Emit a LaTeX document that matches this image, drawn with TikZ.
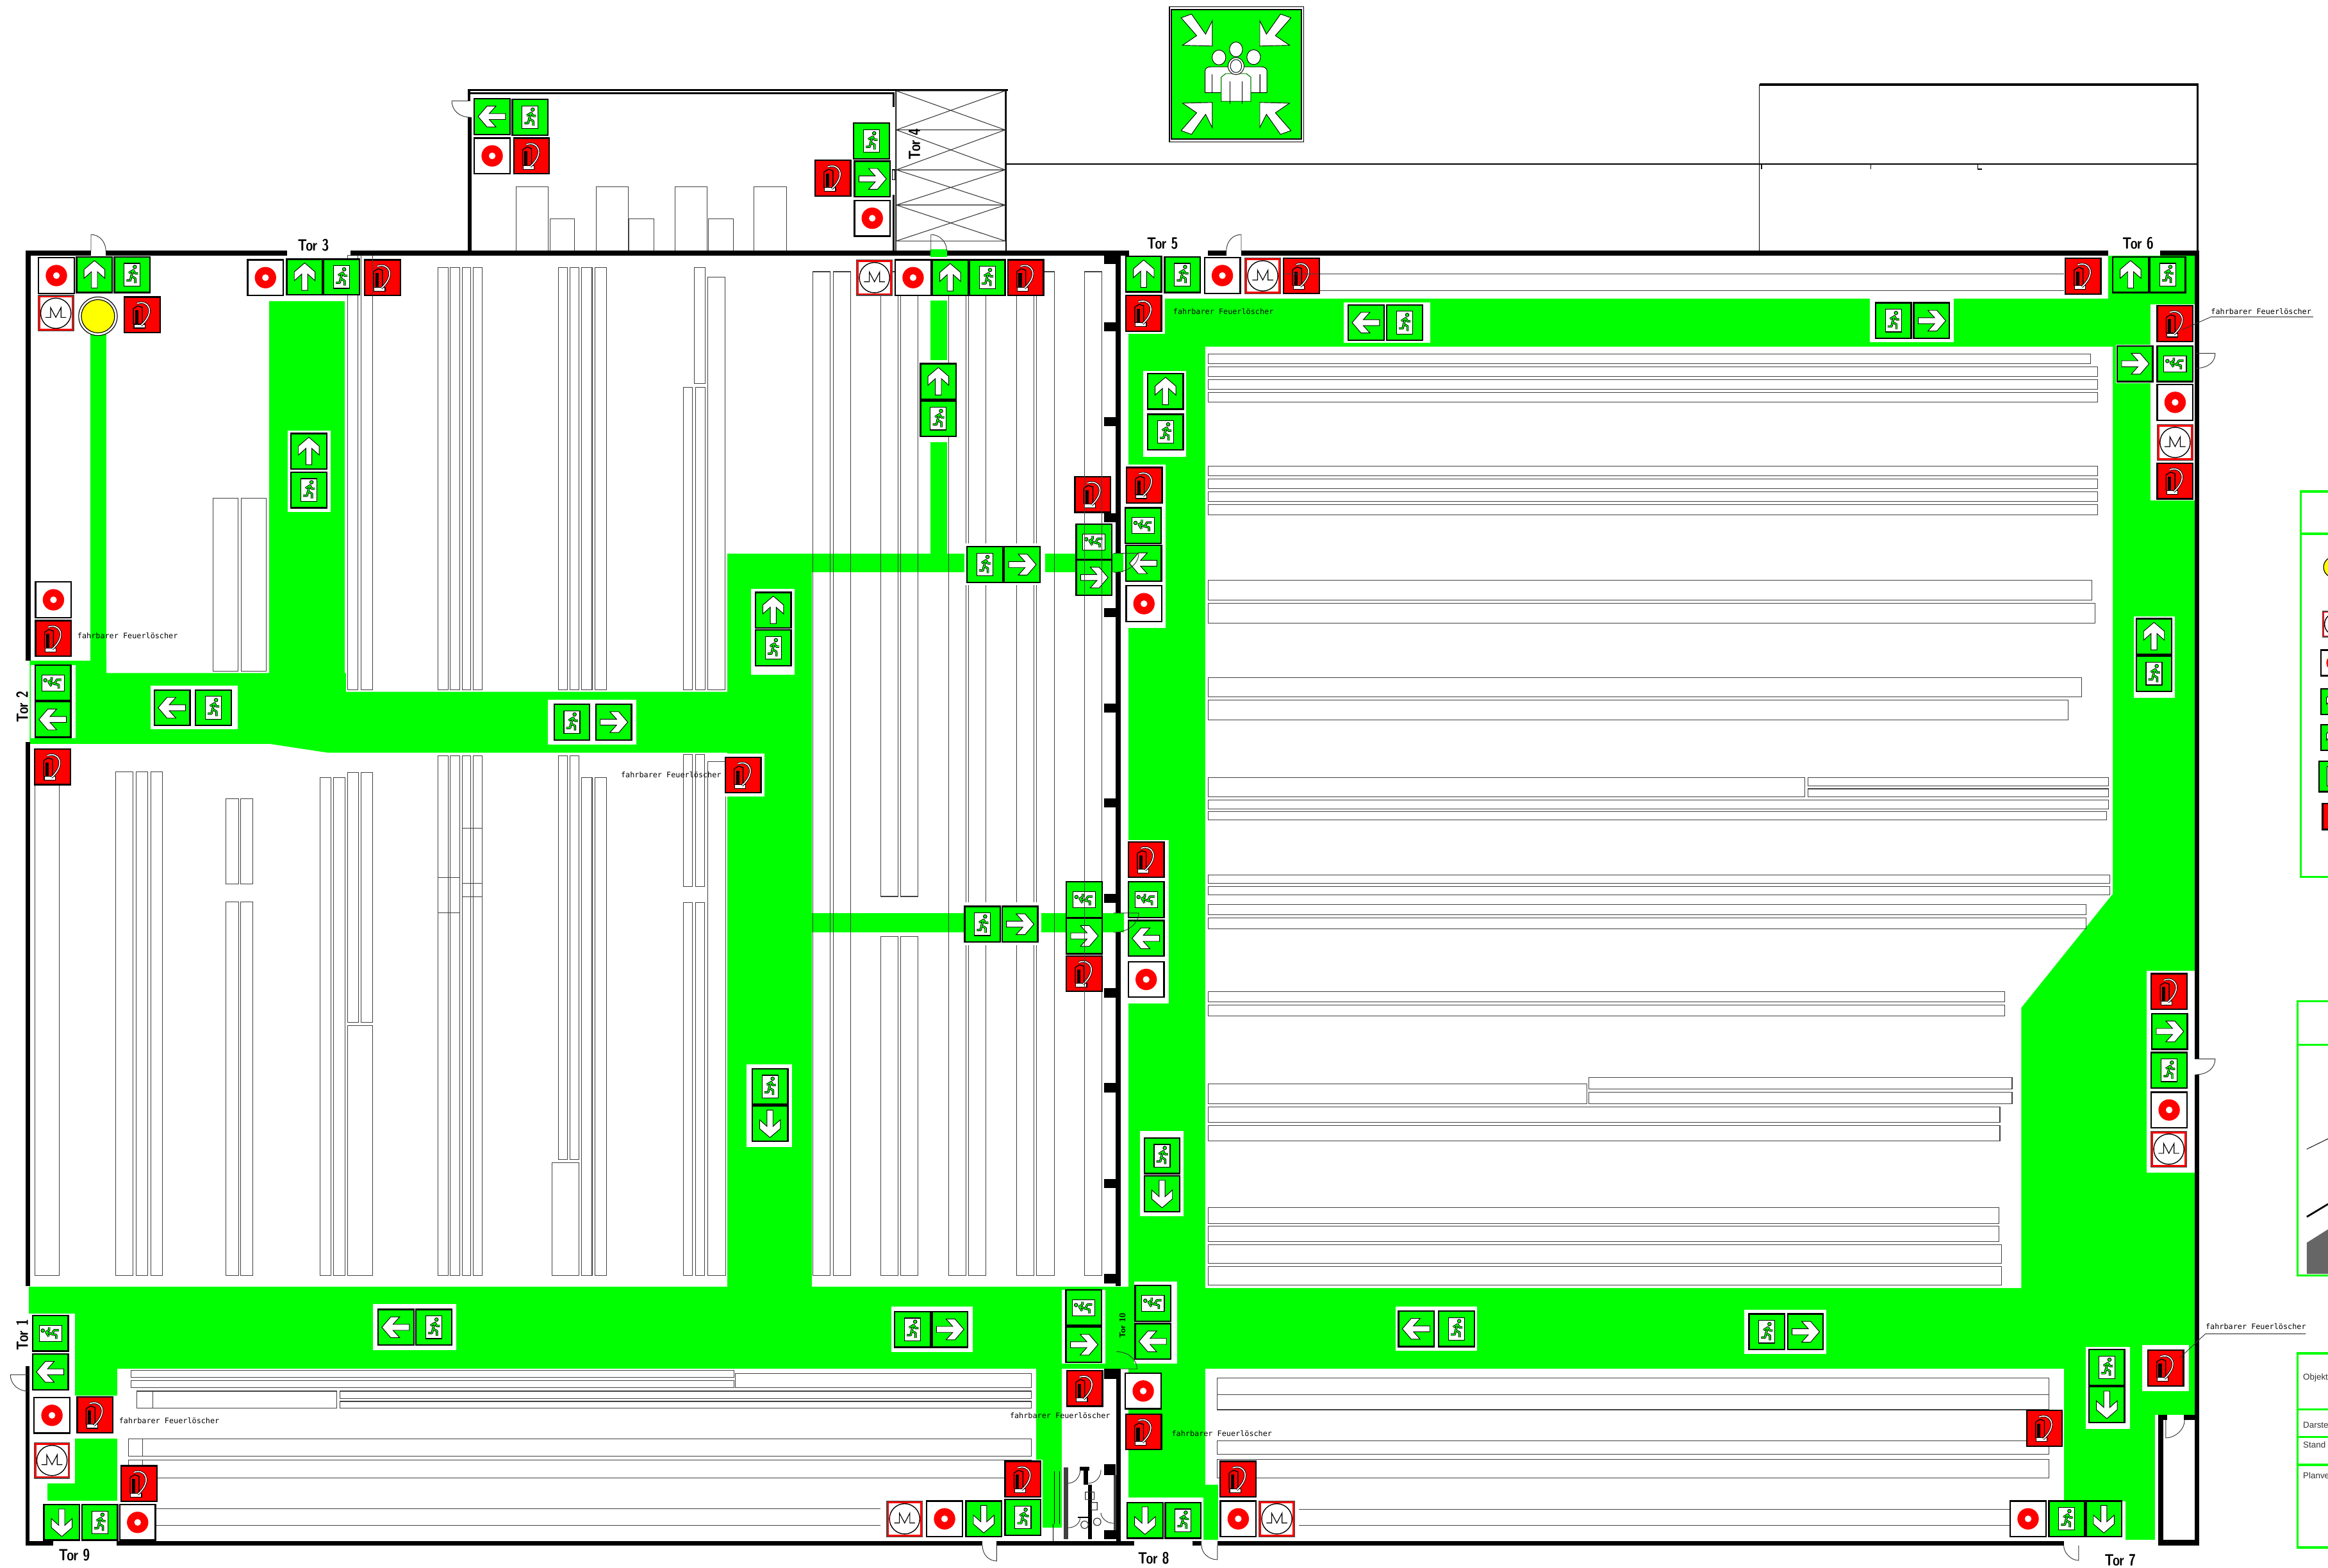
\documentclass[tikz,border=0pt]{standalone}
\usepackage{amssymb}
\usepackage{amsmath}
\usepackage{color}
\usepackage{fontspec}
\newfontfamily\cadfont{DejaVu Sans Mono}
\newfontfamily\titlefont{Liberation Sans}
\definecolor{exitgreen}{RGB}{0,255,0}
\definecolor{firered}{RGB}{255,0,0}
\definecolor{lampyellow}{RGB}{255,255,0}
\newcommand{\runnerpath}{(-3.8,3.9)--(-1.2,3.9)--(-.6,1)--(2.1,2.5)--(2.1,5.7) (-.6,1)--(.8,-3)--(-2.2,-1.1) (.8,-3)--(2,-.9)--(4,-.9)}
\newcommand{\hosepath}{(-3.5,-7.6) .. controls (4,-10.5) and (9.5,-2) .. (-.8,7.2)}
\tikzset{
  every node/.append style={inner sep=0pt},
  rack/.style={draw=black!75,line width=.45pt},
  wall/.style={fill=black},
  walk/.style={fill=exitgreen},
  clearzone/.style={fill=white},
  door/.style={draw=black!80,line width=.4pt},
  signframe/.style={draw=black,line width=1pt},
  legendbox/.style={draw=exitgreen,line width=1.4pt},
  torlabel/.style={font=\sffamily\bfseries\fontsize{11}{11}\selectfont,xscale=.78},
  smalltor/.style={font=\sffamily\bfseries\fontsize{5.6}{6}\selectfont},
  firelabel/.style={font=\cadfont\fontsize{5.1}{6}\selectfont},
  legendtext/.style={font=\titlefont\fontsize{5.8}{7}\selectfont,anchor=west,text=black!80},
  runsign/.pic={
    \draw[signframe,fill=exitgreen] (-12,-12) rectangle (12,12);
    \draw[black,line width=.5pt,fill=white] (-5.4,-7.6) rectangle (5.4,7.6);
    \draw[black,line width=1.5pt,line join=round] \runnerpath;
    \draw[exitgreen,line width=.7pt,line join=round] \runnerpath;
    \draw[black,line width=.4pt,fill=exitgreen] (1.8,-5.2) circle (1.2);
  },
  arrowsign/.pic={
    \draw[signframe,fill=exitgreen] (-12,-12) rectangle (12,12);
    \draw[black,line width=.4pt,fill=white] (0,-9.5)--(7,-3.5)--(7,2.5)--(2,-2)--(2,9)--(-2,9)--(-2,-2)--(-7,2.5)--(-7,-3.5)--cycle;
  },
  firesign/.pic={
    \draw[signframe,fill=firered] (-12,-12) rectangle (12,12);
    \draw[black,line width=.5pt,fill=white] (-5.6,6.4) rectangle (1.8,9);
    \draw[black,line width=.6pt] (-6,-4.2) -- (-3,-6) -- (0,-5) -- (0,6.4) (-6,-4.2) -- (-6,6.4);
    \fill[black] (-4.8,-3) rectangle (-2.6,6.4);
    \draw[black,line width=1.5pt] \hosepath;
    \draw[white,line width=.7pt] \hosepath;
  },
  bellsign/.pic={
    \draw[signframe,fill=white] (-12,-12) rectangle (12,12);
    \fill[firered,even odd rule] (0,0) circle (7.2) (0,0) circle (2.3);
  },
  hornsign/.pic={
    \draw[draw=black!70,line width=.5pt,fill=firered] (-12,-12) rectangle (12,12);
    \fill[white] (-10.6,-10.6) rectangle (10.6,10.6);
    \draw[black,line width=.6pt] (0,0) circle (10.2);
    \draw[black,line width=.5pt] (-7,2.8)--(-3.5,2.8)--(-3.5,-3.8)--(0,2.8)--(3.5,-3.8)--(3.5,2.8)--(7,2.8);
  },
  rallyarrow/.pic={
    \draw[black,line width=.4pt,fill=white] (-16,-19)--(-16,-36)--(-20.5,-27)--(-30,-40.5)--(-37,-38)--(-26.5,-26)--(-36,-19.5)--cycle;
  },
}
\begin{document}
\begin{tikzpicture}[x=1pt,y=-1pt]
\useasboundingbox (0,0) rectangle (1568,1056.1);
\clip (0,0) rectangle (1568,1056.1);
% escape routes, west hall
\fill[walk] (60.7,225) rectangle (71.7,460);
\fill[walk] (181.3,203) rectangle (232.4,470);
\fill[walk] (20,445) -- (71.7,445) -- (71.7,453.3) -- (233,453.3) -- (233,466) -- (490,466) -- (490,507) -- (221,507) -- (181.4,501) -- (20,501) -- cycle;
\fill[walk] (490,373) rectangle (547,867);
\fill[walk] (547,373) rectangle (757,385.5);
\fill[walk] (547,615) rectangle (757,628);
\fill[walk] (626.5,202.5) rectangle (638,373);
\fill[walk] (626.5,168) rectangle (638,173);
\fill[walk] (19.6,866.5) rectangle (1478.3,922);
\fill[walk] (50.4,922) rectangle (79,940);
\fill[walk] (50.4,969) rectangle (79,1011);
\fill[walk] (32,999) rectangle (50.4,1011);
\fill[walk] (702,922) rectangle (715,1029);
\fill[walk] (697.8,922) rectangle (702,983);
% escape routes, east hall
\fill[walk] (760,201) rectangle (1478.3,867);
\fill[walk] (1420,172) rectangle (1478.3,201);
\fill[walk] (760,922) rectangle (812,1008.5);
\fill[walk] (812,1000) rectangle (820.4,1037);
\fill[walk] (810.7,1008.5) rectangle (812,1037);
\fill[walk] (1390,922) rectangle (1451.5,1037);
\fill[walk] (1451.5,922) rectangle (1478.3,952.8);
\fill[clearzone] (811.8,233.6) -- (1423,233.6) -- (1423,602) -- (1361.4,678.7) -- (1361.4,867.6) -- (811.8,867.6) -- cycle;
% racks, west hall north
\draw[rack] (234,172) rectangle (241,464.7);
\draw[rack] (243.4,172) rectangle (250.9,464.7);
\draw[rack] (295,180) rectangle (302,464.7);
\draw[rack] (303.3,180) rectangle (309.6,464.7);
\draw[rack] (311.5,180) rectangle (317.2,464.7);
\draw[rack] (318.8,180) rectangle (324.8,464.7);
\draw[rack] (376.3,180) rectangle (382.2,464.7);
\draw[rack] (383.9,180) rectangle (389.8,464.7);
\draw[rack] (391.5,180) rectangle (398.8,464.7);
\draw[rack] (400.7,180) rectangle (408.3,464.7);
\draw[rack] (467.5,180) rectangle (474.8,258.4);
\draw[rack] (476.7,186.8) rectangle (488.4,464.5);
\draw[rack] (460.2,261) rectangle (466.4,464.5);
\draw[rack] (468.6,261) rectangle (474.8,464.5);
\draw[rack] (143.5,335.6) rectangle (160.3,452);
\draw[rack] (162.4,335.6) rectangle (179.4,452);
% racks, west hall south
\draw[rack] (23.5,505) rectangle (40,859);
\draw[rack] (78,520) rectangle (89.6,859);
\draw[rack] (91.6,520) rectangle (99.5,859);
\draw[rack] (101.5,520) rectangle (109.4,859);
\draw[rack] (152.3,538) rectangle (160.6,595.5);
\draw[rack] (162.2,538) rectangle (170.2,595.5);
\draw[rack] (152.3,607.5) rectangle (160.6,859);
\draw[rack] (162.2,607.5) rectangle (170.2,859);
\draw[rack] (215.4,523.6) rectangle (223,859);
\draw[rack] (224.7,523.6) rectangle (232.3,859);
\draw[rack] (234,520.4) rectangle (241.5,688.6);
\draw[rack] (243.2,520.4) rectangle (250.8,688.6);
\draw[rack] (234,690.7) rectangle (250.8,859);
\draw[rack] (295,509) rectangle (302,859);
\draw[rack] (303.3,509) rectangle (309.6,859);
\draw[rack] (295,591) -- (309.6,591) (295,615) -- (309.6,615);
\draw[rack] (311.5,509) rectangle (317.2,859);
\draw[rack] (318.8,509) rectangle (324.8,859);
\draw[rack] (311.5,558) -- (324.8,558) (311.5,595) -- (324.8,595) (311.5,604) -- (324.8,604);
\draw[rack] (376.3,509) rectangle (382.2,781);
\draw[rack] (383.9,509) rectangle (389.8,781);
\draw[rack] (372,783) rectangle (389.8,859);
\draw[rack] (391.5,523.6) rectangle (398.8,859);
\draw[rack] (400.7,523.6) rectangle (408.3,859);
\draw[rack] (460.5,508) rectangle (466.4,597);
\draw[rack] (468.4,508) rectangle (474.7,597);
\draw[rack] (460.5,608) rectangle (466.4,859);
\draw[rack] (468.4,608) rectangle (474.7,859);
\draw[rack] (476.7,513) rectangle (488.6,859);
% racks, middle aisle
\draw[rack] (547.4,183) rectangle (559.3,859);
\draw[rack] (561.3,183) rectangle (572.8,859);
\draw[rack] (593.2,183) rectangle (604.7,603.8);
\draw[rack] (606.8,183) rectangle (618.4,603.8);
\draw[rack] (593.2,630.8) rectangle (604.7,859);
\draw[rack] (606.8,630.8) rectangle (618.4,859);
\draw[rack] (638.8,183) rectangle (650.5,859);
\draw[rack] (652.4,183) rectangle (664.2,859);
\draw[rack] (684.6,183) rectangle (696.4,859);
\draw[rack] (698.2,183) rectangle (710,859);
\draw[rack] (730.4,183) rectangle (742,859);
% racks, east hall
\draw[rack] (888,184.6) -- (1390,184.6) (888,195.7) -- (1390,195.7);
\draw[rack] (813.6,238.3) rectangle (1408,245);
\draw[rack] (813.6,247) rectangle (1413,253.7);
\draw[rack] (813.6,255.7) rectangle (1413,262.3);
\draw[rack] (813.6,264.3) rectangle (1413,271);
\draw[rack] (813.6,313.9) rectangle (1413,320.5);
\draw[rack] (813.6,322.5) rectangle (1413,329.2);
\draw[rack] (813.6,331.2) rectangle (1413,337.9);
\draw[rack] (813.6,339.9) rectangle (1413,346.8);
\draw[rack] (813.6,390.9) rectangle (1409,404.3);
\draw[rack] (813.6,406.3) rectangle (1411,419.6);
\draw[rack] (813.6,456.3) rectangle (1402,469.4);
\draw[rack] (813.6,471.4) rectangle (1393,484.8);
\draw[rack] (813.6,523.7) rectangle (1215.4,536.8);
\draw[rack] (1217.6,523.7) rectangle (1420,529.4);
\draw[rack] (1217.6,531.3) rectangle (1420,536.8);
\draw[rack] (813.6,539) rectangle (1420,544.7);
\draw[rack] (813.6,546.7) rectangle (1419,552.4);
\draw[rack] (813.6,589.3) rectangle (1421,595);
\draw[rack] (813.6,597.2) rectangle (1421,602.7);
\draw[rack] (813.6,609) rectangle (1405,616.3);
\draw[rack] (813.6,618.3) rectangle (1405,625.4);
\draw[rack] (813.6,667.9) rectangle (1350.3,674.7);
\draw[rack] (813.6,676.9) rectangle (1350.3,684.4);
\draw[rack] (813.6,730.2) rectangle (1068.7,743.4);
\draw[rack] (1070.3,725.8) rectangle (1355.2,733.5);
\draw[rack] (1070.3,735.7) rectangle (1355.2,743.4);
\draw[rack] (813.6,745.6) rectangle (1347,756);
\draw[rack] (813.6,758.2) rectangle (1347,768.5);
\draw[rack] (813.6,813.4) rectangle (1346.2,824);
\draw[rack] (813.6,825.8) rectangle (1346.2,836.3);
\draw[rack] (813.6,838.3) rectangle (1348.2,851);
\draw[rack] (813.6,853) rectangle (1348.2,865.6);
% racks, south bays
\draw[rack] (88.3,922.9) rectangle (494.4,927.6);
\draw[rack] (88.3,929.8) rectangle (494.4,934.6);
\draw[rack] (495.2,925) rectangle (694.7,934.6);
\draw[rack] (92.3,937) rectangle (227,948.6);
\draw[rack] (102.8,937) -- (102.8,948.6);
\draw[rack] (228.8,937) rectangle (694.7,941.8);
\draw[rack] (228.8,943.9) rectangle (694.7,948.6);
\draw[rack] (86.5,969.3) rectangle (694.7,981);
\draw[rack] (96,969.3) -- (96,981);
\draw[rack] (86.5,983.4) rectangle (694.7,995.3);
\draw[rack] (96,983.4) -- (96,995.3);
\draw[rack] (96,1016) -- (593,1016) (96,1027.4) -- (593,1027.4);
\draw[rack] (820,928.2) rectangle (1380,949.5);
\draw[rack] (820,939.5) -- (1380,939.5);
\draw[rack] (820,970.4) rectangle (1380,979.5);
\draw[rack] (820,983) rectangle (1380,995.5);
\draw[rack] (875,1016.5) -- (1355,1016.5) (875,1027.5) -- (1355,1027.5);
% white round the signs
\fill[clearzone] (193.7,290) rectangle (222.8,345);
\fill[clearzone] (20.6,448) rectangle (51,497);
\fill[clearzone] (101.5,461.6) rectangle (160,491);
\fill[clearzone] (369,471.5) rectangle (428.5,501.3);
\fill[clearzone] (488.6,507.4) rectangle (515,536.4);
\fill[clearzone] (505.8,396.5) rectangle (535.3,454.3);
\fill[clearzone] (503,716.7) rectangle (533.5,772.4);
\fill[clearzone] (649.4,366) rectangle (703.8,394);
\fill[clearzone] (649,607.6) rectangle (701.3,636.6);
\fill[clearzone] (626,242.4) rectangle (638.5,298);
\fill[clearzone] (757,172) rectangle (784.6,224.7);
\fill[clearzone] (770,250) rectangle (799,307.7);
\fill[clearzone] (756.7,313) rectangle (785.2,423);
\fill[clearzone] (759.5,566) rectangle (787.4,676);
\fill[clearzone] (767.6,761.8) rectangle (797,819);
\fill[clearzone] (904.9,203.6) rectangle (963.2,231);
\fill[clearzone] (1259.4,201) rectangle (1316,230.4);
\fill[clearzone] (1448.4,205) rectangle (1478.3,337);
\fill[clearzone] (1425,232) rectangle (1449,258);
\fill[clearzone] (1437,415) rectangle (1465,470);
\fill[clearzone] (1445.8,654) rectangle (1478.3,790);
\fill[clearzone] (1442.8,905.8) rectangle (1474.3,937);
\fill[clearzone] (1405,907) rectangle (1434.6,962.5);
\fill[clearzone] (1380,1011.4) rectangle (1431.7,1037);
\fill[clearzone] (19.6,884.6) rectangle (50.4,939.7);
\fill[clearzone] (251.3,878.4) rectangle (307.2,909.5);
\fill[clearzone] (600.5,880) rectangle (655,910.8);
\fill[clearzone] (715,869) rectangle (744.5,918.6);
\fill[clearzone] (764,863) rectangle (793,918.6);
\fill[clearzone] (940,880) rectangle (995,910);
\fill[clearzone] (1175,882) rectangle (1230,912);
% outer walls
\fill[wall] (17.3,168.7) rectangle (61.3,172);
\fill[wall] (71.3,168.7) rectangle (193.3,172);
\fill[wall] (236,168.7) rectangle (626.5,172);
\fill[wall] (638,168.7) rectangle (760.6,172);
\fill[wall] (813.6,168.7) rectangle (826,172);
\fill[wall] (836,168.7) rectangle (1420,172);
\fill[wall] (1455,168.7) rectangle (1481.3,172);
\fill[wall] (17.3,168.7) rectangle (20.6,445);
\fill[wall] (17.3,500) rectangle (20.4,866);
\fill[wall] (17.4,920) rectangle (19.8,1041);
\fill[wall] (17.4,1038) rectangle (36,1041);
\fill[wall] (78.6,1038) rectangle (661.7,1041);
\fill[wall] (671.3,1038) rectangle (764,1041);
\fill[wall] (803,1038) rectangle (809.3,1041);
\fill[wall] (820,1038) rectangle (1390,1041);
\fill[wall] (1453.4,1037) rectangle (1481.3,1041);
\fill[wall] (1478.3,168.7) rectangle (1481.3,713.3);
\fill[wall] (1478.3,723.8) rectangle (1481.3,1041);
\fill[wall] (1453.4,952.8) rectangle (1457,1041);
\fill[wall] (1453.4,952.8) rectangle (1459.5,956.5);
\fill[wall] (1471,952.8) rectangle (1478.6,956.5);
% partition wall with its pillars
\fill[wall] (751.3,168.7) rectangle (755,372.6);
\fill[wall] (751.3,385.5) rectangle (755,615);
\fill[wall] (751.3,628) rectangle (755,866);
\fill[wall] (743.5,172) rectangle (751.3,178);
\fill[wall] (743.5,217) rectangle (751.3,223);
\fill[wall] (743.5,281) rectangle (751.3,287);
\fill[wall] (743.5,345.6) rectangle (751.3,351.7);
\fill[wall] (743.5,409.5) rectangle (751.3,415.5);
\fill[wall] (743.5,474) rectangle (751.3,480);
\fill[wall] (743.5,537.7) rectangle (751.3,543.8);
\fill[wall] (743.5,602) rectangle (751.3,608);
\fill[wall] (743.5,665.5) rectangle (751.3,671.8);
\fill[wall] (743.5,729.4) rectangle (751.3,735.8);
\fill[wall] (743.5,794) rectangle (751.3,800);
\fill[wall] (743.5,857.8) rectangle (751.3,864.3);
\fill[wall] (751.7,922) rectangle (755,1038);
\fill[wall] (743.5,922) rectangle (751.7,928.7);
% sanitary block
\draw[black,line width=.5pt] (709.3,991) grid[xstep=3.35,ystep=3] (716,1026.5);
\draw[black,line width=.4pt] (709.3,1026.5) -- (709.3,1038);
\fill[black!75] (716.5,988.4) rectangle (719.4,1036.6);
\fill[wall] (727.3,988) rectangle (733.5,990.6);
\fill[wall] (730,990.6) rectangle (733,1000);
\fill[wall] (733,1000) rectangle (735.5,1036.6);
\fill[wall] (743.5,986.2) rectangle (751.3,993.4);
\fill[black!75] (750.3,993.4) rectangle (751.7,1036.6);
\fill[wall] (743.5,1030.8) rectangle (751.7,1036.6);
\draw[door] (719.4,999) .. controls (724,999) and (727.5,995) .. (727.5,990);
\draw[door] (733,999) .. controls (738,999) and (741.5,995) .. (741.5,990);
\draw[door] (719.4,1029) .. controls (724,1029) and (727.5,1026) .. (727.5,1022);
\draw[door] (750,1026) .. controls (745,1026) and (741.5,1022) .. (741.5,1019);
\draw[black,line width=.8pt] (726,1022) -- (733,1022);
\draw[black!80,line width=.5pt] (730.5,1027) circle (2.5) (739,1025) circle (2.5) (731,1005) rectangle (737,1010) (735,1012) rectangle (739,1017);
% annexe
\fill[wall] (315,60) rectangle (678.9,61.3);
\fill[wall] (315,60) rectangle (317,68);
\fill[wall] (315,79) rectangle (317.8,168.7);
\fill[wall] (317,62.2) rectangle (602.5,63.3);
\fill[wall] (601,62.2) rectangle (602.5,72);
\fill[wall] (601,131) rectangle (602.5,168.7);
\draw[black,line width=.6pt] (601,114.4) rectangle (603,121);
\draw[black!80,line width=.6pt] (603.4,61.2) -- (603.4,168.7);
\draw[black,line width=.9pt] (677.7,61.2) -- (677.7,168.7);
\draw[black!80,line width=.45pt] (603.7,61.2) rectangle (677,87.5) (603.7,61.2) -- (677,87.5) (603.7,87.5) -- (677,61.2);
\draw[black!80,line width=.45pt] (603.7,87.5) rectangle (677,114.4) (603.7,87.5) -- (677,114.4) (603.7,114.4) -- (677,87.5);
\draw[black!80,line width=.45pt] (603.7,114.4) rectangle (677,138.1) (603.7,114.4) -- (677,138.1) (603.7,138.1) -- (677,114.4);
\draw[black!80,line width=.45pt] (603.7,138.1) rectangle (677,162.3) (603.7,138.1) -- (677,162.3) (603.7,162.3) -- (677,138.1);
\draw[rack] (347.8,168.7) |- (369.4,126) -- (369.4,168.7);
\draw[rack] (370.6,168.7) |- (387,147.5) -- (387,168.7);
\draw[rack] (401.4,168.7) |- (423,126) -- (423,168.7);
\draw[rack] (423.8,168.7) |- (440.3,147.5) -- (440.3,168.7);
\draw[rack] (454.6,168.7) |- (476.2,126) -- (476.2,168.7);
\draw[rack] (477.3,168.7) |- (494,147.5) -- (494,168.7);
\draw[rack] (507.8,168.7) |- (529.7,126) -- (529.7,168.7);
% north-east yard
\draw[black,line width=.9pt] (678,110.4) -- (1480,110.4);
\draw[black,line width=.7pt] (1185,57) -- (1185,169);
\fill[wall] (1185,56) rectangle (1481,58);
\fill[wall] (1479.3,56) rectangle (1481,169);
\draw[black,line width=.6pt] (1186.5,110.4) -- (1186.5,114) (1260,110.4) -- (1260,114) (1332,110.4) -- (1332,114) -- (1335,114);
% doors
\draw[door] (61.3,169) -- (61.3,158) .. controls (67,158) and (71.3,163) .. (71.3,169);
\draw[door] (627,169) -- (627,158) .. controls (633,158) and (637.7,163) .. (637.7,169);
\draw[door] (836,169) -- (836,158) .. controls (830,158) and (826,163) .. (826,169);
\draw[door] (304.3,68) -- (317,68);
\draw[door] (304.3,68) .. controls (304.3,74) and (309,79) .. (317,79);
\draw[door] (1478.5,238) -- (1492,238) .. controls (1492,244) and (1487,248) .. (1479,248);
\draw[door] (1478.5,713.3) -- (1492,713.3) .. controls (1492,719) and (1487,723.8) .. (1479,723.8);
\draw[door] (671.3,1041) -- (671.3,1051.4) .. controls (666,1051.4) and (661.7,1047) .. (661.7,1041);
\draw[door] (820,1041) -- (820,1050.5) .. controls (814,1050.5) and (809.3,1046) .. (809.3,1041);
\draw[door] (1400,1041) -- (1400,1051) .. controls (1395,1051) and (1390,1046) .. (1390,1041);
\draw[door] (19,926) -- (7,926) .. controls (7,932) and (12,937) .. (19,937);
\draw[door] (752,910.4) .. controls (759,910.4) and (765.8,915) .. (765.8,922) -- (755,922);
\draw[door] (1458.7,956.5) -- (1458.7,968.5) .. controls (1465,968.5) and (1471.4,963) .. (1471.4,956.5);
% assembly point
\draw[black,line width=.6pt] (787.6,4.6) rectangle (878.2,95.6);
\draw[black,line width=.8pt,fill=exitgreen] (789,6.5) rectangle (876.6,93.8);
\begin{scope}[shift={(832.5,50)}]
\pic at (0,0) {rallyarrow};
\pic[xscale=-1] at (0,0) {rallyarrow};
\pic[yscale=-1] at (0,0) {rallyarrow};
\pic[xscale=-1,yscale=-1] at (0,0) {rallyarrow};
\draw[black,line width=.4pt,fill=white] (0,-16.7) ellipse (4.4 and 5);
\draw[black,line width=.4pt,fill=white] (-11.5,-11.3) ellipse (4.6 and 5);
\draw[black,line width=.4pt,fill=white] (11.9,-11.5) ellipse (4.6 and 5);
\draw[black,line width=.4pt,fill=white] (-20.8,12.4) -- (-20.8,-2.5) .. controls (-20.8,-4) and (-19,-5) .. (-17,-5) -- (17,-5) .. controls (19,-5) and (20.8,-4) .. (20.8,-2.5) -- (20.8,12.4) -- (16,12.4) -- (16,0) -- (16,12.4) -- (-16,12.4) -- cycle;
\draw[exitgreen!50!black,line width=.5pt,fill=white] (-10,18.3) -- (-10,2) -- (-7,-.4) -- (7,-.4) -- (10,2) -- (10,18.3) -- cycle;
\draw[black,line width=.4pt] (-4,5) -- (-4,20) (4,5) -- (4,20) (-16,0) -- (-16,12.4) (16,0) -- (16,12.4);
\draw[black,line width=.4pt,fill=white] (0,-5.5) ellipse (5.4 and 5.8);
\draw[black,line width=.4pt] (0,-5.5) ellipse (3.8 and 4.4);
\end{scope}
% signs, west hall
\pic at (38,185.6) {bellsign};
\pic at (63.6,185) {arrowsign};
\pic at (89,185) {runsign};
\pic at (37.6,211) {hornsign};
\draw[black,line width=.5pt,fill=white] (66,213) circle (13);
\draw[black,line width=.5pt,fill=lampyellow] (66,213) circle (11.2);
\pic at (95.8,212) {firesign};
\pic at (178.8,187) {bellsign};
\pic at (205.2,186.6) {arrowsign};
\pic at (230,186.6) {runsign};
\pic at (257.6,187) {firesign};
\pic at (208,304) {arrowsign};
\pic at (208,330) {runsign};
\pic at (36,404) {bellsign};
\pic at (36,430) {firesign};
\pic[rotate=90] at (35.7,460) {runsign};
\pic[rotate=90] at (35.7,484.6) {arrowsign};
\pic at (35.4,516.5) {firesign};
\pic[rotate=90] at (116,476.7) {arrowsign};
\pic at (143.7,476.7) {runsign};
\pic at (385.2,486.4) {runsign};
\pic[rotate=-90] at (413.3,486.4) {arrowsign};
\pic at (500.5,522) {firesign};
\pic at (520.8,411) {arrowsign};
\pic at (520.8,436.4) {runsign};
\pic at (518.6,731.8) {runsign};
\pic[rotate=180] at (518.6,756.7) {arrowsign};
\pic at (589,187) {hornsign};
\pic at (615,187) {bellsign};
\pic at (640,187) {arrowsign};
\pic at (665,187) {runsign};
\pic at (690.8,187) {firesign};
\pic at (632,257) {arrowsign};
\pic at (632,282) {runsign};
\pic at (663.3,380.3) {runsign};
\pic[rotate=-90] at (688.4,380.3) {arrowsign};
\pic at (736,333) {firesign};
\pic[rotate=90] at (736.8,365) {runsign};
\pic[rotate=-90] at (736.8,389) {arrowsign};
\pic at (661.7,622.5) {runsign};
\pic[rotate=-90] at (686.9,622.5) {arrowsign};
\pic[rotate=90] at (730.2,606) {runsign};
\pic[rotate=-90] at (730.2,630.4) {arrowsign};
\pic at (730.2,655.8) {firesign};
% signs, west hall south bay
\pic[rotate=90] at (34,898) {runsign};
\pic[rotate=90] at (34,924) {arrowsign};
\pic at (35,953.3) {bellsign};
\pic at (64,953) {firesign};
\pic at (35,983.7) {hornsign};
\pic at (93.6,999.3) {firesign};
\pic[rotate=180] at (41.6,1025.4) {arrowsign};
\pic at (67.2,1025.4) {runsign};
\pic at (92.7,1025.4) {bellsign};
\pic[rotate=90] at (266.7,894) {arrowsign};
\pic at (292.2,894) {runsign};
\pic at (614.6,895.4) {runsign};
\pic[rotate=-90] at (639.7,895.4) {arrowsign};
\pic[rotate=90] at (729.9,880.8) {runsign};
\pic[rotate=-90] at (730,905.7) {arrowsign};
\pic at (730.6,935.2) {firesign};
\pic at (689,996.3) {firesign};
\pic at (689,1022) {runsign};
\pic at (609.3,1023) {hornsign};
\pic at (636.2,1023) {bellsign};
\pic[rotate=180] at (662.6,1023) {arrowsign};
% signs, east hall
\pic at (770.3,184.6) {arrowsign};
\pic at (796.4,185) {runsign};
\pic at (823.3,185.6) {bellsign};
\pic at (850.5,185.8) {hornsign};
\pic at (876.6,185.8) {firesign};
\pic at (770.3,211) {firesign};
\pic[rotate=90] at (920.2,217.3) {arrowsign};
\pic at (946,217.3) {runsign};
\pic at (1275.2,216) {runsign};
\pic[rotate=-90] at (1301,216) {arrowsign};
\pic at (785,263.6) {arrowsign};
\pic at (785,291) {runsign};
\pic at (770.7,326.8) {firesign};
\pic[rotate=90] at (770,354) {runsign};
\pic[rotate=90] at (770.2,379.4) {arrowsign};
\pic at (770.5,406.6) {bellsign};
\pic at (772,579) {firesign};
\pic[rotate=90] at (772,606) {runsign};
\pic[rotate=90] at (772,632) {arrowsign};
\pic at (772,659.7) {bellsign};
\pic at (782.7,778.4) {runsign};
\pic[rotate=180] at (782.7,804) {arrowsign};
\pic[rotate=90] at (776.6,877.9) {runsign};
\pic[rotate=90] at (776.6,903.5) {arrowsign};
\pic at (770,936.9) {bellsign};
\pic at (770.2,964.4) {firesign};
\pic[rotate=180] at (771.2,1024) {arrowsign};
\pic at (796.8,1024) {runsign};
\pic at (833.8,996.3) {firesign};
\pic at (834,1023) {bellsign};
\pic at (860,1023) {hornsign};
\pic[rotate=90] at (954,895) {arrowsign};
\pic at (981,895) {runsign};
\pic at (1190,897) {runsign};
\pic[rotate=-90] at (1216,897) {arrowsign};
\pic at (1403,186) {firesign};
\pic at (1435,185) {arrowsign};
\pic at (1460,185) {runsign};
\pic at (1465,218) {firesign};
\pic[rotate=-90] at (1438,245) {arrowsign};
\pic[rotate=90] at (1465,245) {runsign};
\pic at (1465,271) {bellsign};
\pic at (1465,298) {hornsign};
\pic at (1464.9,324) {firesign};
\pic at (1450.8,428.7) {arrowsign};
\pic at (1450.8,453.8) {runsign};
\pic at (1461,667.8) {firesign};
\pic[rotate=-90] at (1461.3,694.7) {arrowsign};
\pic at (1461,720.9) {runsign};
\pic at (1461,747.6) {bellsign};
\pic at (1460.8,774) {hornsign};
\pic at (1458.6,921.4) {firesign};
\pic at (1419,921) {runsign};
\pic[rotate=180] at (1419,946) {arrowsign};
\pic at (1377,962) {firesign};
\pic at (1366,1023) {bellsign};
\pic at (1392,1023) {runsign};
\pic[rotate=180] at (1417,1023) {arrowsign};
% signs, annexe
\pic[rotate=90] at (331.5,78.5) {arrowsign};
\pic at (357,79) {runsign};
\pic at (331.5,105) {bellsign};
\pic at (358,105) {firesign};
\pic at (587,95) {runsign};
\pic[rotate=-90] at (587.5,120.5) {arrowsign};
\pic at (561,120) {firesign};
\pic at (587.5,147) {bellsign};
% rack lines that run over the signs, and the doors of the partition
\draw[rack] (730.4,320) -- (730.4,400) (742,320) -- (742,400);
\draw[rack] (730.4,594) -- (730.4,668);
\draw[rack] (250.9,172) -- (250.9,199);
\draw[rack] (888,184.6) -- (864.5,184.6);
\draw[door] (750,372.6) -- (767,372.6) .. controls (767,379) and (761,385.5) .. (750,385.5);
\draw[door] (750,615) -- (767,615) .. controls (767,621) and (761,628) .. (750,628);
% gate and extinguisher labels
\node[rotate=90,torlabel] (tor1) at (15,899) {Tor 1};
\node[rotate=90,torlabel] (tor2) at (15,476) {Tor 2};
\node[torlabel] (tor3) at (211,165) {Tor 3};
\node[rotate=90,torlabel] (tor4) at (616,97) {Tor 4};
\node[torlabel] (tor5) at (783,164) {Tor 5};
\node[torlabel] (tor6) at (1440,164) {Tor 6};
\node[torlabel] (tor7) at (1428,1051) {Tor 7};
\node[torlabel] (tor8) at (777,1049.5) {Tor 8};
\node[torlabel] (tor9) at (50,1047.5) {Tor 9};
\node[rotate=90,smalltor] (tor10) at (756,893) {Tor 10};
\node[firelabel,anchor=west] (firewest) at (52,428) {fahrbarer Feuerlöscher};
\node[firelabel,anchor=east] (firemid) at (486,522) {fahrbarer Feuerlöscher};
\node[firelabel,anchor=west] (firesw) at (80,957) {fahrbarer Feuerlöscher};
\node[firelabel,anchor=west] (firewc) at (680,953.6) {fahrbarer Feuerlöscher};
\node[firelabel,anchor=west] (firese) at (789,965.7) {fahrbarer Feuerlöscher};
\node[firelabel,anchor=west] (firenw) at (790,210) {fahrbarer Feuerlöscher};
\node[firelabel,anchor=west] (firene) at (1489,210) {fahrbarer Feuerlöscher};
\node[firelabel,anchor=west] (fireeast) at (1485.4,893.5) {fahrbarer Feuerlöscher};
\coordinate (fireneend) at (1470,222);
\coordinate (fireeastend) at (1468,914.7);
\draw[door] (fireneend) -- (1489,213.5) -- (1558,213.5);
\draw[door] (fireeastend) -- (1485.4,898.4) -- (1553,898.4);
% legend boxes, cut off by the sheet edge
\draw[legendbox] (1549.6,331) rectangle (1580,590.6);
\draw[legendbox] (1549.6,359.5) -- (1580,359.5);
\draw[black,line width=.5pt,fill=lampyellow] (1572,382) circle (7);
\pic[scale=.72] at (1573,420.4) {hornsign};
\pic[scale=.72] at (1572,446.5) {bellsign};
\pic[scale=.72] at (1572,472.5) {arrowsign};
\pic[scale=.72] at (1572,496.7) {arrowsign};
\pic[scale=.85] at (1572,523) {runsign};
\pic[scale=.72] at (1573,550) {firesign};
\draw[legendbox] (1547.6,674.3) rectangle (1580,859.2);
\draw[legendbox] (1547.6,703.6) -- (1580,703.6);
\draw[black,line width=.4pt] (1553.7,774) -- (1568,767);
\draw[black,line width=1.2pt] (1553.7,819.6) -- (1568,811);
\fill[black!60] (1553.7,837) -- (1568,828) -- (1568,858) -- (1553.7,858) -- cycle;
\draw[legendbox] (1547.6,911.5) rectangle (1580,1042.3);
\draw[legendbox] (1547.6,949.4) -- (1580,949.4);
\draw[legendbox] (1547.6,967.7) -- (1580,967.7);
\draw[legendbox] (1547.6,986.6) -- (1580,986.6);
\node[legendtext] (objekttext) at (1551,928) {Objekt};
\node[legendtext] (darstetext) at (1551,960) {Darste};
\node[legendtext] (standtext) at (1551,973) {Stand};
\node[legendtext] (planvetext) at (1551,994) {Planve};
\end{tikzpicture}
\end{document}
